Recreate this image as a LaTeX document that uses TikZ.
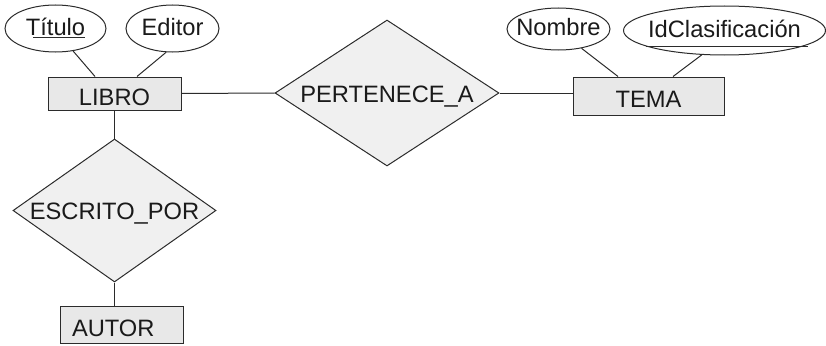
\documentclass[tikz,border=0pt]{standalone}
\usepackage{fontspec}
\setmainfont{Liberation Sans}
\usetikzlibrary{shapes.geometric}
\definecolor{linec}{HTML}{2B2B2B}
\definecolor{textc}{HTML}{1A1A1A}
\definecolor{entfill}{HTML}{E8E8E8}
\definecolor{relfill}{HTML}{F0F0F0}
\tikzset{
  every node/.style={text=textc, font=\fontsize{23.7}{28}\selectfont},
  ent/.style={draw=linec, line width=1pt, fill=entfill, rectangle, inner sep=0pt, text height=23pt, text depth=0pt},
  rel/.style={draw=linec, line width=1pt, fill=relfill, diamond, inner sep=0pt, text height=18pt, text depth=0pt},
  attr/.style={draw=linec, line width=1pt, fill=white, ellipse, inner ysep=0pt, inner xsep=-8pt, text height=14pt, text depth=0pt},
  conn/.style={draw=linec, line width=1pt},
}
\begin{document}
\begin{tikzpicture}[x=1pt, y=-1pt]
\useasboundingbox (0,0) rectangle (826,345);
% entities
\node[ent, minimum width=133pt, minimum height=33pt] (libro) at (114.5,93.5) {LIBRO};
\node[ent, minimum width=151pt, minimum height=38pt] (tema) at (648.5,96) {TEMA};
\node[ent, minimum height=37pt, text width=99pt, align=left, inner xsep=12pt] (autor) at (121.5,324.5) {AUTOR};
% relationships
\node[rel, aspect=1.534, minimum width=224pt, minimum height=146pt] (pert) at (387,93) {PERTENECE\_A};
\node[rel, aspect=1.42, minimum width=203pt, minimum height=143pt] (escr) at (114.5,210.5) {ESCRITO\_POR};
% attributes
\node[attr, minimum width=101pt, minimum height=47pt] (titulo) at (55.5,28.5) {Título};
\node[attr, minimum width=93pt, minimum height=47pt] (editor) at (172.5,28.5) {Editor};
\node[attr, minimum width=103pt, minimum height=42pt] (nombre) at (558.5,29) {Nombre};
\node[attr, minimum width=202pt, minimum height=49pt] (idc) at (724.5,30.5) {IdClasificación};
% underlines of keys
\draw[conn] ([shift={(-22.5,9.5)}]titulo.center) -- ([shift={(29.5,9.5)}]titulo.center);
\draw[conn] ([shift={(-78.5,16.5)}]idc.center) -- ([shift={(83.5,16.5)}]idc.center);
% connectors
\draw[conn] (titulo.-52) -- ([xshift=-19.5pt]libro.north);
\draw[conn] (editor.-105) -- ([xshift=22.5pt]libro.north);
\draw[conn] (nombre.-40) -- ([xshift=-30.5pt]tema.north);
\draw[conn] (idc.-133) -- ([xshift=24.5pt]tema.north);
\draw[conn] (libro.east) -- (pert.west);
\draw[conn] (pert.east) -- (tema.west |- pert.east);
\draw[conn] (libro.south) -- (escr.north);
\draw[conn] (escr.south) -- (escr.south |- autor.north);
\end{tikzpicture}
\end{document}
